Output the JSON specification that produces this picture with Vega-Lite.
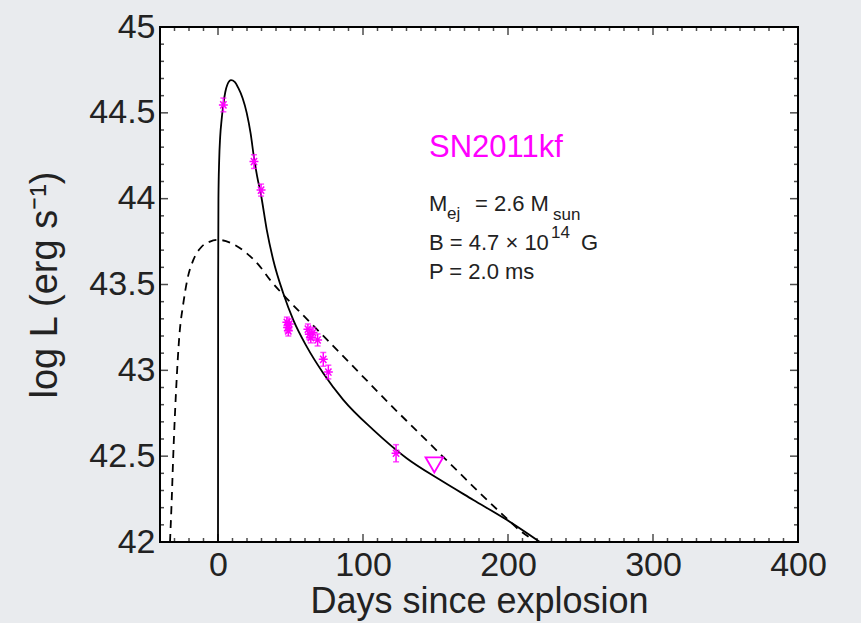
{
  "$schema": "https://vega.github.io/schema/vega-lite/v6.json",
  "width": 638,
  "height": 515,
  "autosize": {"type": "none"},
  "padding": {"left": 160, "top": 27, "right": 63, "bottom": 81},
  "background": "#e9ebee",
  "config": {
    "font": "Liberation Sans",
    "view": {"fill": "white", "stroke": "black", "strokeWidth": 2},
    "axis": {"grid": false, "domain": false, "labelFont": "Liberation Sans", "labelColor": "#222222", "titleColor": "#222222", "titleFont": "Liberation Sans", "titleFontWeight": "normal", "ticks": false, "labelOverlap": false, "labelFlush": false, "labelBound": false}
  },
  "datasets": {
    "solid": [
      {"t": 0, "L": 42.0}, {"t": 0.1, "L": 43.5}, {"t": 0.3, "L": 44.0}, {"t": 0.8, "L": 44.22}, {"t": 1.5, "L": 44.36},
      {"t": 2.5, "L": 44.46}, {"t": 3.7, "L": 44.55}, {"t": 5, "L": 44.62}, {"t": 6.5, "L": 44.665}, {"t": 9, "L": 44.69},
      {"t": 11.5, "L": 44.68}, {"t": 14, "L": 44.645}, {"t": 17, "L": 44.585}, {"t": 19.8, "L": 44.5}, {"t": 22.5, "L": 44.38},
      {"t": 24.8, "L": 44.24}, {"t": 27, "L": 44.13}, {"t": 29.7, "L": 44.02}, {"t": 33.6, "L": 43.82}, {"t": 38.1, "L": 43.643},
      {"t": 45, "L": 43.449}, {"t": 51.9, "L": 43.294}, {"t": 61.2, "L": 43.138}, {"t": 72.6, "L": 42.983}, {"t": 86.4, "L": 42.828},
      {"t": 107.1, "L": 42.653}, {"t": 130.1, "L": 42.488}, {"t": 153.1, "L": 42.362}, {"t": 176.1, "L": 42.245}, {"t": 199.1, "L": 42.129},
      {"t": 222, "L": 42.0}
    ],
    "dashed": [
      {"t": -33.1, "L": 42.0}, {"t": -32, "L": 42.226}, {"t": -30.8, "L": 42.517}, {"t": -29, "L": 42.867}, {"t": -26.7, "L": 43.196},
      {"t": -23.9, "L": 43.391}, {"t": -21.2, "L": 43.527}, {"t": -17, "L": 43.643}, {"t": -11.3, "L": 43.72}, {"t": -5.5, "L": 43.75},
      {"t": 0.2, "L": 43.76}, {"t": 8.3, "L": 43.744}, {"t": 19.8, "L": 43.682}, {"t": 29, "L": 43.604}, {"t": 35.9, "L": 43.527},
      {"t": 45, "L": 43.44}, {"t": 60, "L": 43.31}, {"t": 75, "L": 43.18}, {"t": 90, "L": 43.05}, {"t": 105, "L": 42.92},
      {"t": 120, "L": 42.79}, {"t": 135, "L": 42.665}, {"t": 150, "L": 42.54}, {"t": 165, "L": 42.415}, {"t": 180, "L": 42.29},
      {"t": 195, "L": 42.17}, {"t": 210, "L": 42.055}, {"t": 216, "L": 42.02}
    ],
    "obs": [
      {"t": 3.7, "L": 44.546, "lo": 44.506, "hi": 44.586},
      {"t": 24.8, "L": 44.216, "lo": 44.176, "hi": 44.256},
      {"t": 29.7, "L": 44.05, "lo": 44.015, "hi": 44.085},
      {"t": 47.5, "L": 43.28, "lo": 43.25, "hi": 43.31},
      {"t": 48.0, "L": 43.25, "lo": 43.22, "hi": 43.28},
      {"t": 48.5, "L": 43.23, "lo": 43.2, "hi": 43.26},
      {"t": 49.2, "L": 43.27, "lo": 43.24, "hi": 43.3},
      {"t": 62.0, "L": 43.24, "lo": 43.21, "hi": 43.27},
      {"t": 63.0, "L": 43.21, "lo": 43.18, "hi": 43.24},
      {"t": 64.0, "L": 43.19, "lo": 43.16, "hi": 43.22},
      {"t": 65.5, "L": 43.22, "lo": 43.19, "hi": 43.25},
      {"t": 68.7, "L": 43.177, "lo": 43.142, "hi": 43.212},
      {"t": 72.6, "L": 43.064, "lo": 43.024, "hi": 43.104},
      {"t": 76.1, "L": 42.99, "lo": 42.95, "hi": 43.03},
      {"t": 122.8, "L": 42.517, "lo": 42.467, "hi": 42.567}
    ],
    "limit": [{"t": 149.2, "L": 42.449}],
    "xmajor": [{"v": 0}, {"v": 100}, {"v": 200}, {"v": 300}, {"v": 400}],
    "xminor": [{"v": -40}, {"v": -30}, {"v": -20}, {"v": -10}, {"v": 10}, {"v": 20}, {"v": 30}, {"v": 40}, {"v": 50}, {"v": 60}, {"v": 70}, {"v": 80}, {"v": 90},
      {"v": 110}, {"v": 120}, {"v": 130}, {"v": 140}, {"v": 150}, {"v": 160}, {"v": 170}, {"v": 180}, {"v": 190},
      {"v": 210}, {"v": 220}, {"v": 230}, {"v": 240}, {"v": 250}, {"v": 260}, {"v": 270}, {"v": 280}, {"v": 290},
      {"v": 310}, {"v": 320}, {"v": 330}, {"v": 340}, {"v": 350}, {"v": 360}, {"v": 370}, {"v": 380}, {"v": 390}],
    "ymajor": [{"v": 42}, {"v": 42.5}, {"v": 43}, {"v": 43.5}, {"v": 44}, {"v": 44.5}, {"v": 45}],
    "yminor": [{"v": 42.1}, {"v": 42.2}, {"v": 42.3}, {"v": 42.4}, {"v": 42.6}, {"v": 42.7}, {"v": 42.8}, {"v": 42.9},
      {"v": 43.1}, {"v": 43.2}, {"v": 43.3}, {"v": 43.4}, {"v": 43.6}, {"v": 43.7}, {"v": 43.8}, {"v": 43.9},
      {"v": 44.1}, {"v": 44.2}, {"v": 44.3}, {"v": 44.4}, {"v": 44.6}, {"v": 44.7}, {"v": 44.8}, {"v": 44.9}]
  },
  "layer": [
    {
      "data": {"name": "solid"},
      "mark": {"type": "line", "color": "black", "strokeWidth": 1.8, "clip": true, "interpolate": "monotone"},
      "encoding": {
        "x": {"field": "t", "type": "quantitative", "scale": {"domain": [-40, 400], "nice": false, "zero": false},
          "axis": {"orient": "bottom", "values": [0, 100, 200, 300, 400], "labelFontSize": 34, "labelPadding": 6, "title": "Days since explosion", "titleFontSize": 36, "titlePadding": 2}},
        "y": {"field": "L", "type": "quantitative", "scale": {"domain": [42, 45], "nice": false, "zero": false},
          "axis": {"orient": "left", "values": [42, 42.5, 43, 43.5, 44, 44.5, 45], "format": "~g", "labelFontSize": 34, "labelPadding": 5, "title": "log L (erg s⁻¹)", "titleFontSize": 38, "titlePadding": 24}},
        "order": {"field": "t", "type": "quantitative"}
      }
    },
    {
      "data": {"name": "dashed"},
      "mark": {"type": "line", "color": "black", "strokeWidth": 1.8, "strokeDash": [8, 6], "clip": true, "interpolate": "monotone"},
      "encoding": {
        "x": {"field": "t", "type": "quantitative"},
        "y": {"field": "L", "type": "quantitative"}
      }
    },
    {
      "data": {"name": "xmajor"},
      "layer": [
        {"mark": {"type": "tick", "orient": "vertical", "size": 16, "thickness": 1.5, "color": "black", "clip": true},
         "encoding": {"x": {"field": "v", "type": "quantitative"}, "y": {"datum": 42, "type": "quantitative"}}},
        {"mark": {"type": "tick", "orient": "vertical", "size": 16, "thickness": 1.5, "color": "black", "clip": true},
         "encoding": {"x": {"field": "v", "type": "quantitative"}, "y": {"datum": 45, "type": "quantitative"}}}
      ]
    },
    {
      "data": {"name": "xminor"},
      "layer": [
        {"mark": {"type": "tick", "orient": "vertical", "size": 8, "thickness": 1.5, "color": "black", "clip": true},
         "encoding": {"x": {"field": "v", "type": "quantitative"}, "y": {"datum": 42, "type": "quantitative"}}},
        {"mark": {"type": "tick", "orient": "vertical", "size": 8, "thickness": 1.5, "color": "black", "clip": true},
         "encoding": {"x": {"field": "v", "type": "quantitative"}, "y": {"datum": 45, "type": "quantitative"}}}
      ]
    },
    {
      "data": {"name": "ymajor"},
      "layer": [
        {"mark": {"type": "tick", "orient": "horizontal", "size": 16, "thickness": 1.5, "color": "black", "clip": true},
         "encoding": {"y": {"field": "v", "type": "quantitative"}, "x": {"datum": -40, "type": "quantitative"}}},
        {"mark": {"type": "tick", "orient": "horizontal", "size": 16, "thickness": 1.5, "color": "black", "clip": true},
         "encoding": {"y": {"field": "v", "type": "quantitative"}, "x": {"datum": 400, "type": "quantitative"}}}
      ]
    },
    {
      "data": {"name": "yminor"},
      "layer": [
        {"mark": {"type": "tick", "orient": "horizontal", "size": 8, "thickness": 1.5, "color": "black", "clip": true},
         "encoding": {"y": {"field": "v", "type": "quantitative"}, "x": {"datum": -40, "type": "quantitative"}}},
        {"mark": {"type": "tick", "orient": "horizontal", "size": 8, "thickness": 1.5, "color": "black", "clip": true},
         "encoding": {"y": {"field": "v", "type": "quantitative"}, "x": {"datum": 400, "type": "quantitative"}}}
      ]
    },
    {
      "data": {"name": "obs"},
      "layer": [
        {"mark": {"type": "rule", "color": "#ff00ff", "strokeWidth": 1.5},
         "encoding": {"x": {"field": "t", "type": "quantitative"}, "y": {"field": "lo", "type": "quantitative"}, "y2": {"field": "hi"}}},
        {"mark": {"type": "tick", "color": "#ff00ff", "orient": "horizontal", "size": 6, "thickness": 1.5},
         "encoding": {"x": {"field": "t", "type": "quantitative"}, "y": {"field": "lo", "type": "quantitative"}}},
        {"mark": {"type": "tick", "color": "#ff00ff", "orient": "horizontal", "size": 6, "thickness": 1.5},
         "encoding": {"x": {"field": "t", "type": "quantitative"}, "y": {"field": "hi", "type": "quantitative"}}},
        {"mark": {"type": "point", "shape": "M-0.7,-0.8L0.7,0.8M-0.7,0.8L0.7,-0.8M-1,0L1,0", "filled": false, "color": "#ff00ff", "size": 80, "strokeWidth": 1.5, "opacity": 1},
         "encoding": {"x": {"field": "t", "type": "quantitative"}, "y": {"field": "L", "type": "quantitative"}}}
      ]
    },
    {
      "data": {"name": "limit"},
      "mark": {"type": "point", "shape": "triangle-down", "filled": false, "color": "#ff00ff", "size": 310, "strokeWidth": 1.8, "opacity": 1},
      "encoding": {
        "x": {"field": "t", "type": "quantitative"},
        "y": {"field": "L", "type": "quantitative"}
      }
    },
    {
      "data": {"values": [{"t": 145.5, "L": 44.243, "label": "SN2011kf"}]},
      "mark": {"type": "text", "align": "left", "baseline": "alphabetic", "fontSize": 31, "color": "#ff00ff"},
      "encoding": {
        "x": {"field": "t", "type": "quantitative"},
        "y": {"field": "L", "type": "quantitative"},
        "text": {"field": "label"}
      }
    },
    {
      "data": {"values": [
        {"t": 145.5, "L": 43.93, "label": "M"},
        {"t": 177.2, "L": 43.93, "label": "= 2.6 M"},
        {"t": 145.5, "L": 43.701, "label": "B = 4.7 × 10"},
        {"t": 250.3, "L": 43.701, "label": "G"},
        {"t": 145.5, "L": 43.532, "label": "P = 2.0 ms"}
      ]},
      "mark": {"type": "text", "align": "left", "baseline": "alphabetic", "fontSize": 22, "color": "#222222"},
      "encoding": {
        "x": {"field": "t", "type": "quantitative"},
        "y": {"field": "L", "type": "quantitative"},
        "text": {"field": "label"}
      }
    },
    {
      "data": {"values": [
        {"t": 157.9, "L": 43.882, "label": "ej"},
        {"t": 231.0, "L": 43.876, "label": "sun"},
        {"t": 229.7, "L": 43.771, "label": "14"}
      ]},
      "mark": {"type": "text", "align": "left", "baseline": "alphabetic", "fontSize": 17, "color": "#222222"},
      "encoding": {
        "x": {"field": "t", "type": "quantitative"},
        "y": {"field": "L", "type": "quantitative"},
        "text": {"field": "label"}
      }
    }
  ]
}
